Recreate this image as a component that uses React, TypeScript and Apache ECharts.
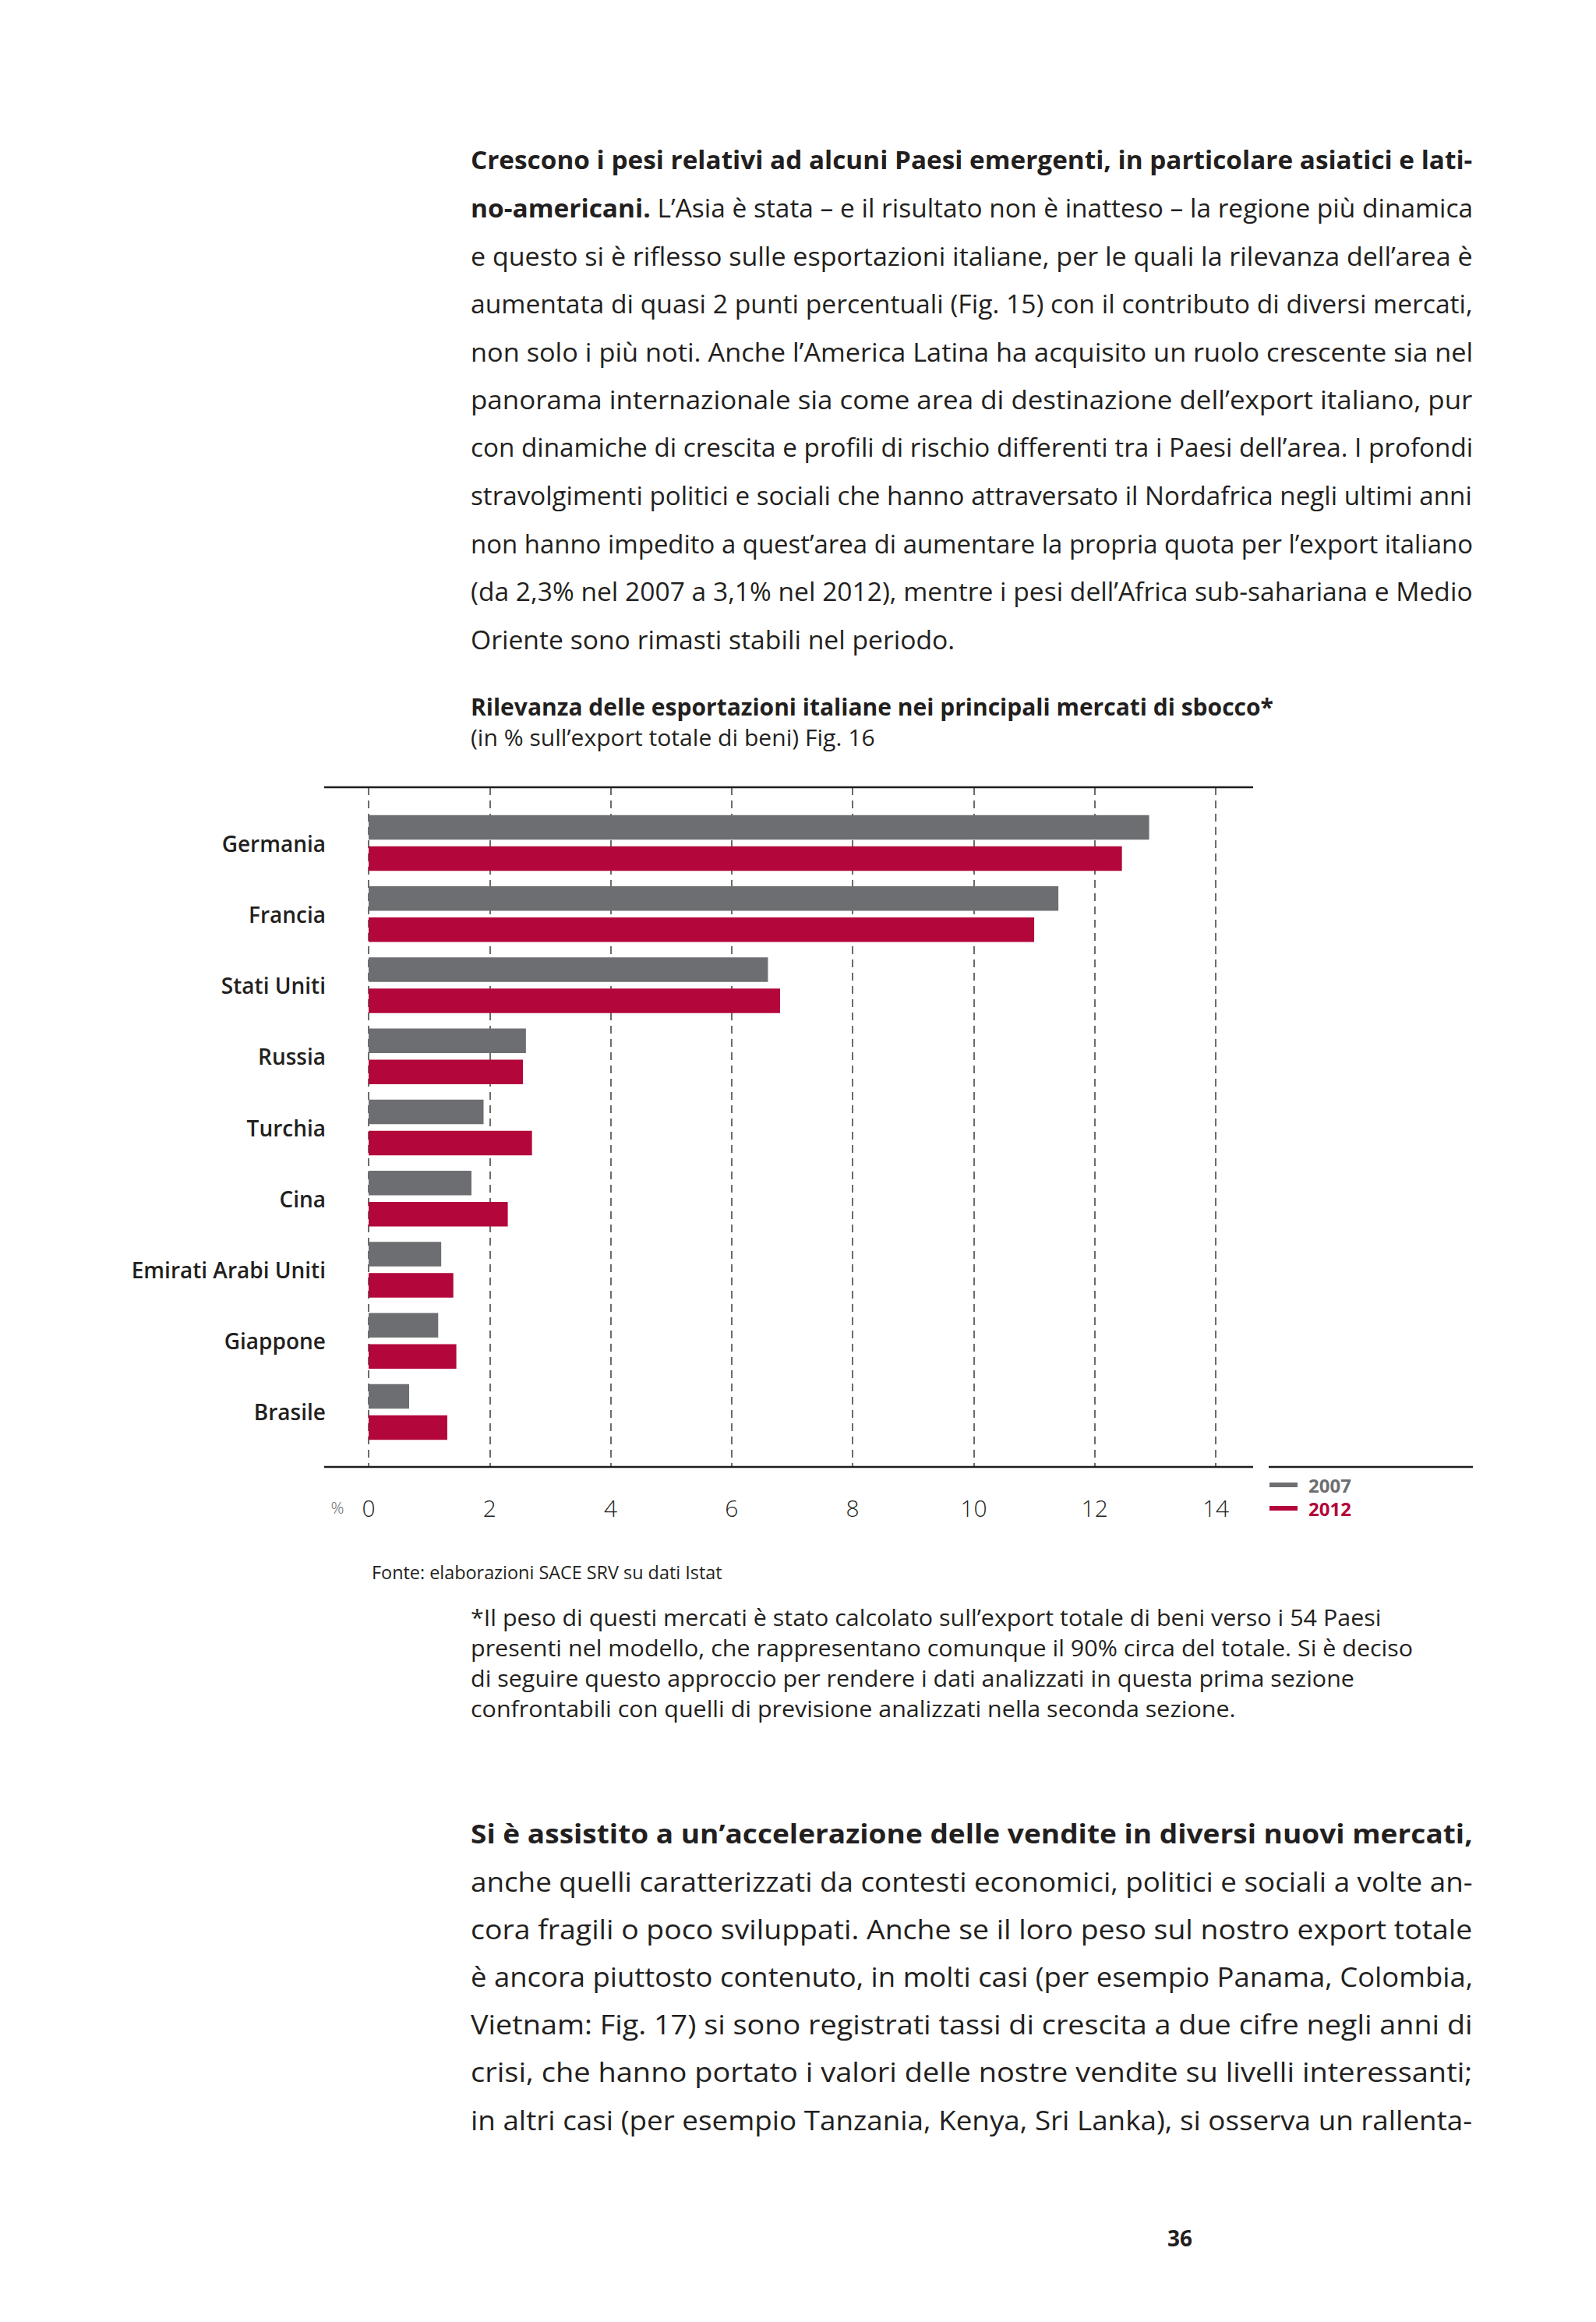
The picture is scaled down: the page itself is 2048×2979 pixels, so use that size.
import React, { useEffect, useRef } from 'react';
import * as echarts from 'echarts';

// ---------- chart data ----------
const countries = ['Germania', 'Francia', 'Stati Uniti', 'Russia', 'Turchia', 'Cina', 'Emirati Arabi Uniti', 'Giappone', 'Brasile'];
const values2007 = [12.9, 11.4, 6.6, 2.6, 1.9, 1.7, 1.2, 1.15, 0.67];
const values2012 = [12.45, 11.0, 6.8, 2.55, 2.7, 2.3, 1.4, 1.45, 1.3];
const seriesNames = ['2007', '2012'];
const axisMin = 0;
const axisMax = 14;
const axisInterval = 2;

// ---------- page texts ----------
const chartTitle = 'Rilevanza delle esportazioni italiane nei principali mercati di sbocco*';
const chartSubtitle = '(in % sull’export totale di beni) Fig. 16';
const sourceText = 'Fonte: elaborazioni SACE SRV su dati Istat';
const axisUnit = '%';
const pageNumber = '36';

const para1BoldLine = 'Crescono i pesi relativi ad alcuni Paesi emergenti, in particolare asiatici e lati-';
const para1Line2Bold = 'no-americani.';
const para1Line2Rest = ' L’Asia è stata – e il risultato non è inatteso – la regione più dinamica';
const para1Lines = [
  'e questo si è riflesso sulle esportazioni italiane, per le quali la rilevanza dell’area è',
  'aumentata di quasi 2 punti percentuali (Fig. 15) con il contributo di diversi mercati,',
  'non solo i più noti. Anche l’America Latina ha acquisito un ruolo crescente sia nel',
  'panorama internazionale sia come area di destinazione dell’export italiano, pur',
  'con dinamiche di crescita e profili di rischio differenti tra i Paesi dell’area. I profondi',
  'stravolgimenti politici e sociali che hanno attraversato il Nordafrica negli ultimi anni',
  'non hanno impedito a quest’area di aumentare la propria quota per l’export italiano',
  '(da 2,3% nel 2007 a 3,1% nel 2012), mentre i pesi dell’Africa sub-sahariana e Medio',
];
const para1LastLine = 'Oriente sono rimasti stabili nel periodo.';

const footnoteLines = [
  '*Il peso di questi mercati è stato calcolato sull’export totale di beni verso i 54 Paesi',
  'presenti nel modello, che rappresentano comunque il 90% circa del totale. Si è deciso',
  'di seguire questo approccio per rendere i dati analizzati in questa prima sezione',
  'confrontabili con quelli di previsione analizzati nella seconda sezione.',
];

const para2BoldLine = 'Si è assistito a un’accelerazione delle vendite in diversi nuovi mercati,';
const para2Lines = [
  'anche quelli caratterizzati da contesti economici, politici e sociali a volte an-',
  'cora fragili o poco sviluppati. Anche se il loro peso sul nostro export totale',
  'è ancora piuttosto contenuto, in molti casi (per esempio Panama, Colombia,',
  'Vietnam: Fig. 17) si sono registrati tassi di crescita a due cifre negli anni di',
  'crisi, che hanno portato i valori delle nostre vendite su livelli interessanti;',
  'in altri casi (per esempio Tanzania, Kenya, Sri Lanka), si osserva un rallenta-',
];

// ---------- styles ----------
const FF = "'Open Sans', 'Noto Sans', sans-serif";
const TEXT = '#231f20';
const GRAY = '#6d6e71';
const RED = '#b3063a';

type Seg = { t: string; w: string | number };

export default function App() {
  const ref = useRef<HTMLDivElement>(null);

  useEffect(() => {
    const chart = echarts.init(ref.current!, null, { renderer: 'svg' });
    const canvas = document.createElement('canvas');
    const ctx = canvas.getContext('2d')!;
    const mw = (t: string, size: number, w: string | number) => {
      ctx.font = `${w} ${size}px ${FF}`;
      return ctx.measureText(t).width;
    };

    const textEl = (segs: Seg[], x: number, y: number, size: number, sx: number, fill = TEXT) => {
      let style: any;
      if (segs.length === 1) {
        style = { text: segs[0].t, fontSize: size, fontFamily: FF, fontWeight: segs[0].w, fill };
      } else {
        const rich: any = {};
        segs.forEach((s, i) => {
          rich['s' + i] = { fontSize: size, fontFamily: FF, fontWeight: s.w, fill };
        });
        style = {
          text: segs.map((s, i) => `{s${i}|${s.t}}`).join(''),
          rich,
          fontSize: size,
          fontFamily: FF,
          fill,
        };
      }
      return {
        type: 'text',
        x,
        y,
        scaleX: sx,
        silent: true,
        style: { ...style, align: 'left', verticalAlign: 'middle', textAlign: 'left', textVerticalAlign: 'middle' },
      };
    };
    const natural = (segs: Seg[], size: number) => segs.reduce((a, s) => a + mw(s.t, size, s.w), 0);

    const graphics: any[] = [];

    // paragraph 1 (justified)
    const P1X = 604, P1W = 1286, P1Y = 205, P1STEP = 61.5, P1S = 33;
    const p1: Seg[][] = [
      [{ t: para1BoldLine, w: 'bold' }],
      [{ t: para1Line2Bold, w: 'bold' }, { t: para1Line2Rest, w: 'normal' }],
      ...para1Lines.map((l) => [{ t: l, w: 'normal' }]),
    ];
    const p1Scales = p1.map((segs) => P1W / natural(segs, P1S));
    p1.forEach((segs, i) => graphics.push(textEl(segs, P1X, P1Y + i * P1STEP, P1S, p1Scales[i])));
    const avg1 = p1Scales.slice(1).reduce((a, b) => a + b, 0) / (p1Scales.length - 1);
    graphics.push(textEl([{ t: para1LastLine, w: 'normal' }], P1X, P1Y + p1.length * P1STEP, P1S, avg1));

    // chart title
    const TS = 30;
    graphics.push(textEl([{ t: chartTitle, w: 'bold' }], 604, 906, TS, 1030 / mw(chartTitle, TS, 'bold')));
    const SS = 29;
    graphics.push(textEl([{ t: chartSubtitle, w: 'normal' }], 604, 946, SS, 519 / mw(chartSubtitle, SS, 'normal')));

    // source + footnote
    const FS = 24;
    graphics.push(textEl([{ t: sourceText, w: 'normal' }], 477, 2017, FS, 450 / mw(sourceText, FS, 'normal')));
    const NS = 29;
    const nScale = 1169 / mw(footnoteLines[0], NS, 'normal');
    footnoteLines.forEach((l, i) => graphics.push(textEl([{ t: l, w: 'normal' }], 604, 2075 + i * 39, NS, nScale)));

    // paragraph 2 (justified)
    const P2Y = 2352, P2STEP = 61.2, P2S = 34;
    const p2: Seg[][] = [[{ t: para2BoldLine, w: 'bold' }], ...para2Lines.map((l) => [{ t: l, w: 'normal' }])];
    p2.forEach((segs, i) => graphics.push(textEl(segs, P1X, P2Y + i * P2STEP, P2S, P1W / natural(segs, P2S))));

    // page number
    graphics.push({
      type: 'text', x: 1514, y: 2871, silent: true,
      style: { text: pageNumber, fontSize: 28, fontWeight: 'bold', fontFamily: FF, fill: TEXT, align: 'center', verticalAlign: 'middle', textAlign: 'center', textVerticalAlign: 'middle' },
    });

    // axis unit
    graphics.push({
      type: 'text', x: 433, y: 1934, silent: true,
      style: { text: axisUnit, fontSize: 21, fontWeight: 300, fontFamily: FF, fill: '#666', align: 'center', verticalAlign: 'middle', textAlign: 'center', textVerticalAlign: 'middle' },
    });

    // horizontal rules
    const rule = (x1: number, x2: number, y: number) => ({
      type: 'line', silent: true, z: 10,
      shape: { x1, y1: y, x2, y2: y },
      style: { stroke: '#1d1d1b', lineWidth: 2.5 },
    });
    graphics.push(rule(416, 1608, 1010));
    graphics.push(rule(416, 1608, 1882));
    graphics.push(rule(1628, 1890, 1882));

    const option: any = {
      animation: false,
      backgroundColor: '#ffffff',
      grid: [
        { left: 473, width: 1087, top: 1010, height: 872 },
        { left: 473, width: 1087, top: 1036, height: 821 },
      ],
      xAxis: [
        {
          gridIndex: 0, type: 'value', min: axisMin, max: axisMax, interval: axisInterval,
          axisLine: { show: false }, axisTick: { show: false },
          splitLine: { show: true, lineStyle: { color: '#3c3c3c', width: 1.5, type: [10, 7] } },
          axisLabel: { margin: 37, fontSize: 30, fontWeight: 300, fontFamily: FF, color: TEXT },
        },
        { gridIndex: 1, type: 'value', min: axisMin, max: axisMax, interval: axisInterval, show: false },
      ],
      yAxis: [
        { gridIndex: 0, type: 'category', data: countries, show: false },
        {
          gridIndex: 1, type: 'category', data: countries, inverse: true,
          axisLine: { show: false }, axisTick: { show: false }, splitLine: { show: false },
          axisLabel: { margin: 55, fontSize: 28, fontWeight: 600, fontFamily: FF, color: TEXT },
        },
      ],
      legend: {
        orient: 'vertical', left: 1629, top: 1893, padding: 0,
        itemWidth: 36, itemHeight: 6, itemGap: 6, icon: 'rect',
        data: [
          { name: seriesNames[0], textStyle: { color: GRAY } },
          { name: seriesNames[1], textStyle: { color: RED } },
        ],
        textStyle: { fontSize: 24, fontWeight: 'bold', fontFamily: FF, lineHeight: 24, padding: [0, 0, 0, 9] },
      },
      series: [
        {
          name: seriesNames[0], type: 'bar', xAxisIndex: 1, yAxisIndex: 1, data: values2007,
          barWidth: 31.5, barGap: '27%', itemStyle: { color: GRAY },
        },
        {
          name: seriesNames[1], type: 'bar', xAxisIndex: 1, yAxisIndex: 1, data: values2012,
          barWidth: 31.5, barGap: '27%', itemStyle: { color: RED },
        },
      ],
      graphic: { elements: graphics },
    };
    chart.setOption(option);
    return () => chart.dispose();
  }, []);

  return (
    <div
      ref={ref}
      style={{ position: 'absolute', left: 0, top: 0, width: 2048, height: 2979, background: '#ffffff' }}
    />
  );
}
